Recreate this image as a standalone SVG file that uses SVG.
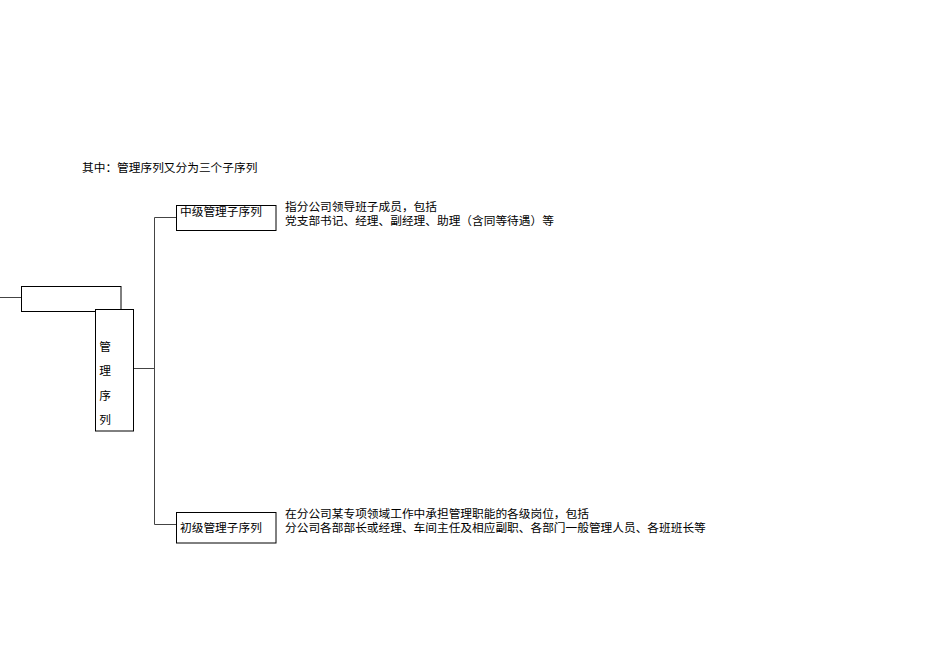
<svg xmlns="http://www.w3.org/2000/svg" width="950" height="672" viewBox="0 0 950 672">
<style>
text{font-family:"Liberation Serif","Noto Sans CJK SC",serif;font-size:11.7px;fill:#000}
.box{fill:#fff;stroke:#000;stroke-width:1}
.ln{fill:none;stroke:#444;stroke-width:1}
</style>
<rect width="950" height="672" fill="#fff"/>
<text x="82" y="172">其中：管理序列又分为三个子序列</text>
<g id="connectors">
<path class="ln" d="M0 297.5H21"/>
<path class="ln" d="M133 368.5H154.5"/>
<path class="ln" d="M154.5 217.5V524.5"/>
<path class="ln" d="M154.5 217.5H176"/>
<path class="ln" d="M154.5 524.5H176"/>
</g>
<g id="node-root">
<rect class="box" x="21.5" y="286.5" width="99.5" height="25"/>
</g>
<g id="node-manage">
<rect class="box" x="95.5" y="309.5" width="38" height="121.5"/>
<text x="105" y="351" text-anchor="middle">管</text>
<text x="105" y="375" text-anchor="middle">理</text>
<text x="105" y="400" text-anchor="middle">序</text>
<text x="105" y="424" text-anchor="middle">列</text>
</g>
<g id="node-mid">
<rect class="box" x="176.5" y="205.5" width="99.5" height="25"/>
<text x="180" y="216">中级管理子序列</text>
</g>
<g id="node-mid-desc">
<text x="285" y="211">指分公司领导班子成员，包括</text>
<text x="285" y="225">党支部书记、经理、副经理、助理（含同等待遇）等</text>
</g>
<g id="node-junior">
<rect class="box" x="176.5" y="512.5" width="99.5" height="30.5"/>
<text x="180" y="532">初级管理子序列</text>
</g>
<g id="node-junior-desc">
<text x="285" y="518">在分公司某专项领域工作中承担管理职能的各级岗位，包括</text>
<text x="285" y="532">分公司各部部长或经理、车间主任及相应副职、各部门一般管理人员、各班班长等</text>
</g>
</svg>
